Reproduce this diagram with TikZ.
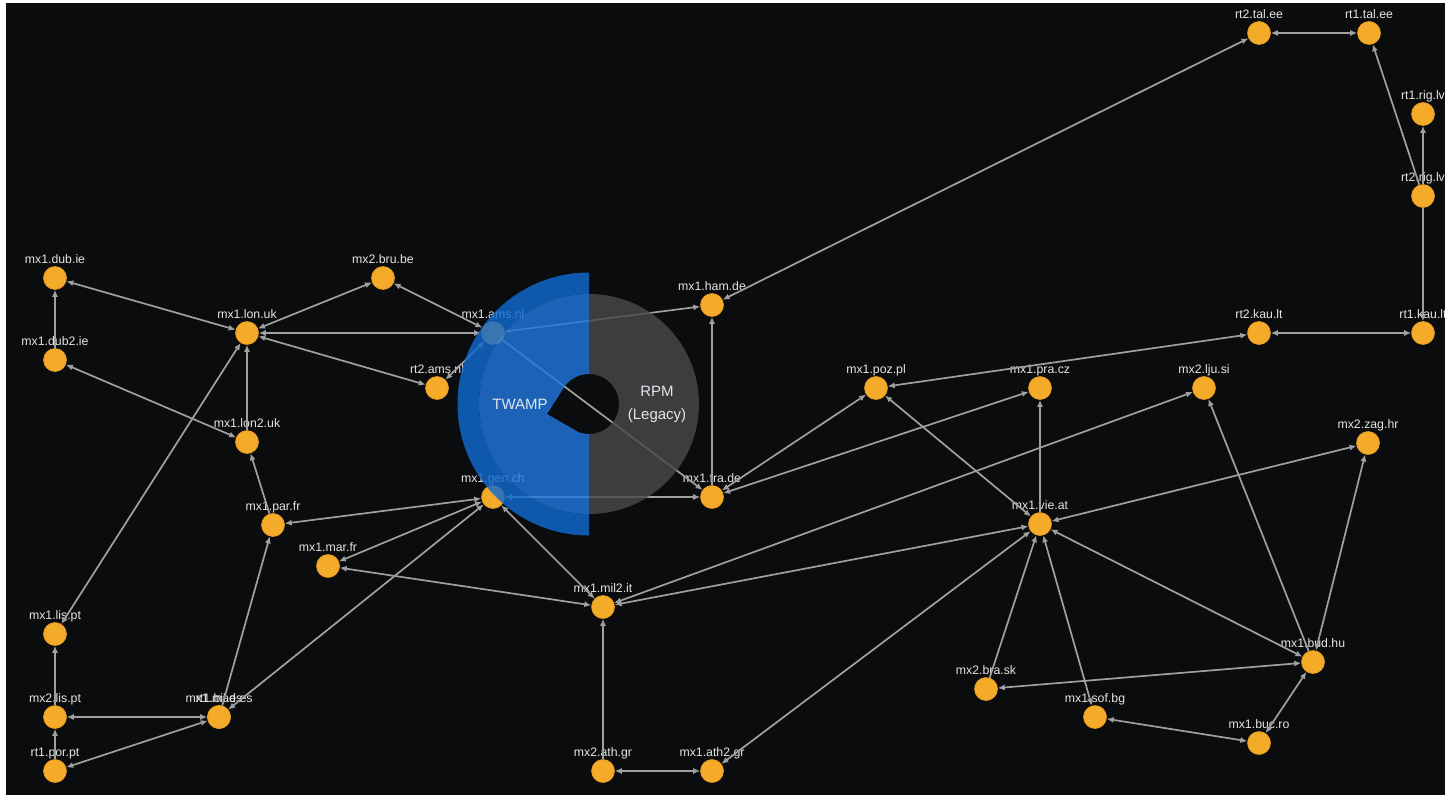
\documentclass[tikz,border=0pt]{standalone}
\usepackage{fontspec}
\setmainfont{Liberation Sans}
\usetikzlibrary{arrows.meta}
\definecolor{bgc}{HTML}{0B0C0E}
\definecolor{nodec}{HTML}{F5AB2A}
\definecolor{nodeb}{HTML}{E39A1E}
\definecolor{edgec}{HTML}{A0A0A0}
\definecolor{lblc}{HTML}{E4E4E4}
\definecolor{blueout}{HTML}{106ACF}
\definecolor{bluein}{HTML}{2077DE}
\definecolor{grayring}{HTML}{4A4949}
\definecolor{ringtxt}{HTML}{E2E6EC}
\tikzset{
  pt/.style={circle, fill=nodec, draw=nodeb, line width=0.6pt, minimum size=23pt, inner sep=0pt},
  lbl/.style={text=lblc, font=\fontsize{12.3}{12.3}\selectfont, inner sep=0pt, text height=8.8pt, text depth=0pt},
  edge/.style={draw=edgec, line width=1.7pt},
  ringlbl/.style={text=ringtxt, font=\fontsize{15}{23}\selectfont, align=center, inner sep=0pt}
}
\begin{document}
\begin{tikzpicture}[x=1pt, y=-1pt, label distance=3pt, >={Latex[length=7pt,width=6pt]}]
\useasboundingbox (0,0) rectangle (1450,795);
\fill[white] (0,0) rectangle (1450,795);
\fill[bgc] (6,3) rectangle (1445,795);

% nodes
\node[pt, label={[lbl]90:mx1.dub.ie}] (dubie) at (55,278) {};
\node[pt, label={[lbl]90:mx1.dub2.ie}] (dubtwo) at (55,360) {};
\node[pt, label={[lbl]90:mx1.lon.uk}] (lon) at (247,333) {};
\node[pt, label={[lbl]90:mx2.bru.be}] (bru) at (383,278) {};
\node[pt, label={[lbl]90:mx1.ams.nl}] (ams) at (493,333) {};
\node[pt, label={[lbl]90:rt2.ams.nl}] (rtams) at (437,388) {};
\node[pt, label={[lbl]90:mx1.lon2.uk}] (lontwo) at (247,442) {};
\node[pt, label={[lbl]90:mx1.par.fr}] (par) at (273,525) {};
\node[pt, label={[lbl]90:mx1.mar.fr}] (mar) at (328,566) {};
\node[pt, label={[lbl]90:mx1.lis.pt}] (lis) at (55,634) {};
\node[pt, label={[lbl]90:mx2.lis.pt}] (listwo) at (55,717) {};
\node[pt, label={[lbl]90:rt1.por.pt}] (por) at (55,771) {};
\node[pt, label={[lbl]90:mx1.mad.es}] (mad) at (219,717) {};
\node[pt, label={[lbl]90:rt1.bil.es}] (bil) at (219,717) {};
\node[pt, label={[lbl]90:mx1.gen.ch}] (gen) at (493,497) {};
\node[pt, label={[lbl]90:mx1.ham.de}] (ham) at (712,305) {};
\node[pt, label={[lbl]90:mx1.fra.de}] (fra) at (712,497) {};
\node[pt, label={[lbl]90:mx1.mil2.it}] (mil) at (603,607) {};
\node[pt, label={[lbl]90:mx2.ath.gr}] (ath) at (603,771) {};
\node[pt, label={[lbl]90:mx1.ath2.gr}] (athtwo) at (712,771) {};
\node[pt, label={[lbl]90:mx1.poz.pl}] (poz) at (876,388) {};
\node[pt, label={[lbl]90:mx1.pra.cz}] (pra) at (1040,388) {};
\node[pt, label={[lbl]90:mx2.lju.si}] (lju) at (1204,388) {};
\node[pt, label={[lbl]90:mx1.vie.at}] (vie) at (1040,524) {};
\node[pt, label={[lbl]90:mx2.bra.sk}] (bra) at (986,689) {};
\node[pt, label={[lbl]90:mx1.sof.bg}] (sof) at (1095,717) {};
\node[pt, label={[lbl]90:mx1.buc.ro}] (buc) at (1259,743) {};
\node[pt, label={[lbl]90:mx1.bud.hu}] (bud) at (1313,662) {};
\node[pt, label={[lbl]90:mx2.zag.hr}] (zag) at (1368,443) {};
\node[pt, label={[lbl]90:rt2.tal.ee}] (taltwo) at (1259,33) {};
\node[pt, label={[lbl]90:rt1.tal.ee}] (talone) at (1369,33) {};
\node[pt, label={[lbl]90:rt1.rig.lv}] (rigone) at (1423,114) {};
\node[pt, label={[lbl]90:rt2.rig.lv}] (rigtwo) at (1423,196) {};
\node[pt, label={[lbl]90:rt1.kau.lt}] (kauone) at (1423,333) {};
\node[pt, label={[lbl]90:rt2.kau.lt}] (kautwo) at (1259,333) {};

% edges
\draw[edge,->] (dubtwo) -- (dubie);
\draw[edge,<->] (dubie) -- (lon);
\draw[edge,<->] (dubtwo) -- (lontwo);
\draw[edge,<->] (lon) -- (bru);
\draw[edge,<->] (bru) -- (ams);
\draw[edge,<->] (lon) -- (ams);
\draw[edge,<->] (lon) -- (rtams);
\draw[edge,<->] (rtams) -- (ams);
\draw[edge,->] (lontwo) -- (lon);
\draw[edge,<->] (lis) -- (lon);
\draw[edge,->] (par) -- (lontwo);
\draw[edge,<->] (gen) -- (par);
\draw[edge,<->] (gen) -- (mar);
\draw[edge,<->] (gen) -- (mad);
\draw[edge,->] (bil) -- (par);
\draw[edge,<->] (listwo) -- (mad);
\draw[edge,<->] (por) -- (bil);
\draw[edge,->] (por) -- (listwo);
\draw[edge,->] (listwo) -- (lis);
\draw[edge,<->] (mil) -- (mar);
\draw[edge,<->] (mil) -- (gen);
\draw[edge,->] (ams) -- (ham);
\draw[edge,->] (ams) -- (fra);
\draw[edge,<->] (gen) -- (fra);
\draw[edge,->] (fra) -- (ham);
\draw[edge,<->] (ham) -- (taltwo);
\draw[edge,<->] (taltwo) -- (talone);
\draw[edge,->] (rigtwo) -- (talone);
\draw[edge,->] (rigtwo) -- (rigone);
\draw[edge,->] (rigtwo) -- (kauone);
\draw[edge,<->] (kautwo) -- (kauone);
\draw[edge,<->] (kautwo) -- (poz);
\draw[edge,<->] (fra) -- (poz);
\draw[edge,<->] (fra) -- (pra);
\draw[edge,<->] (mil) -- (lju);
\draw[edge,->] (vie) -- (pra);
\draw[edge,<->] (vie) -- (poz);
\draw[edge,<->] (mil) -- (vie);
\draw[edge,<->] (vie) -- (zag);
\draw[edge,->] (bud) -- (lju);
\draw[edge,<->] (bud) -- (zag);
\draw[edge,<->] (bud) -- (vie);
\draw[edge,<->] (bra) -- (bud);
\draw[edge,->] (bra) -- (vie);
\draw[edge,<->] (sof) -- (vie);
\draw[edge,<->] (sof) -- (buc);
\draw[edge,<->] (buc) -- (bud);
\draw[edge,<->] (athtwo) -- (vie);
\draw[edge,<->] (ath) -- (athtwo);
\draw[edge,->] (ath) -- (mil);

% donut
\begin{scope}[fill opacity=0.82]
  \begin{scope}
    \clip (0,0) rectangle (589,795);
    \fill[blueout, even odd rule] (589,404) circle[radius=131.5pt] (589,404) circle[radius=110pt];
    \fill[bluein, even odd rule] (589,404) circle[radius=110pt]
      plot[domain=-146.3:111, samples=80, variable=\t] ({589+30*cos(\t)},{404+30*sin(\t)}) -- (547,414) -- cycle;
  \end{scope}
  \begin{scope}
    \clip (589,0) rectangle (1450,795);
    \fill[grayring, even odd rule] (589,404) circle[radius=110pt]
      plot[domain=-146.3:111, samples=80, variable=\t] ({589+30*cos(\t)},{404+30*sin(\t)}) -- (547,414) -- cycle;
  \end{scope}
\end{scope}
\node[ringlbl] (twamp) at (520,404) {TWAMP};
\node[ringlbl] (rpm) at (657,404) {RPM\\(Legacy)};
\end{tikzpicture}
\end{document}
